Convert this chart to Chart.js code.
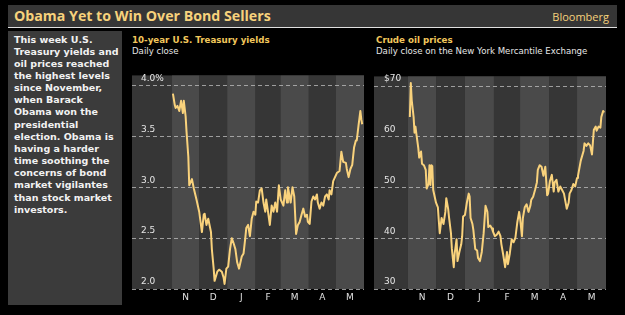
<!DOCTYPE html>
<html>
<head>
<meta charset="utf-8">
<script src="https://cdn.jsdelivr.net/npm/chart.js@4.4.1/dist/chart.umd.min.js"></script>
<style>
  body { margin: 0; background: #000; width: 625px; height: 315px; overflow: hidden; position: relative; font-family: "DejaVu Sans", sans-serif; }
  #bar { position: absolute; left: 8px; top: 5px; width: 609px; height: 22px; background: #363636; border-bottom: 1px solid #e0e0e0; }
  #title { position: absolute; left: 6px; top: 1px; font: bold 14.2px "Open Sans"; color: #f7d27c; white-space: nowrap; }
  #brand { position: absolute; right: 8px; top: 4px; font: 11px "Open Sans"; color: #f7d27c; }
  #side { position: absolute; left: 8px; top: 31px; width: 114px; height: 274px; background: #3b3b3b; }
  #side p { margin: 0; position: absolute; left: 6px; top: 2.5px; font: bold 9.5px/12.15px "DejaVu Sans"; color: #f2f2f2; white-space: nowrap; }
  .hd { position: absolute; font: bold 8.7px/11px "DejaVu Sans"; color: #f2c75c; white-space: nowrap; }
  .sub { position: absolute; font: 8.6px/11px "DejaVu Sans"; color: #e6e6e6; white-space: nowrap; }
  canvas { position: absolute; }
</style>
</head>
<body>
<div id="bar"><div id="title">Obama Yet to Win Over Bond Sellers</div><div id="brand">Bloomberg</div></div>
<div id="side"><p>This week U.S.<br>Treasury yields and<br>oil prices reached<br>the highest levels<br>since November,<br>when Barack<br>Obama won the<br>presidential<br>election. Obama is<br>having a harder<br>time soothing the<br>concerns of bond<br>market vigilantes<br>than stock market<br>investors.</p></div>

<div class="hd" style="left:132px;top:35px">10-year U.S. Treasury yields</div>
<div class="sub" style="left:132px;top:46px">Daily close</div>
<div class="hd" style="left:376px;top:35px">Crude oil prices</div>
<div class="sub" style="left:376px;top:46px">Daily close on the New York Mercantile Exchange</div>

<canvas id="yields" width="232" height="244" style="left:132px;top:61px"></canvas>
<canvas id="oil" width="232" height="244" style="left:374px;top:61px"></canvas>

<script>
// days counted from Nov 1, 2008
const monthStarts = [0, 30, 61, 92, 120, 151, 181, 212];
const monthLetters = ["N", "D", "J", "F", "M", "A", "M"];

const yieldDays = [1, 3, 4, 6, 8, 10, 12, 13, 15, 16, 18, 19, 22, 24, 27, 30, 33, 35, 36, 38,
  40, 43, 44, 46, 47, 50, 52, 55, 57, 58, 60, 62, 64, 66, 68, 70, 72, 74, 77, 79,
  81, 82, 84, 86, 88, 90, 92, 93, 95, 97, 99, 101, 103, 104, 106, 108, 110, 112, 114, 116,
  118, 120, 123, 125, 127, 128, 131, 133, 135, 137, 139, 141, 143, 145, 147, 149, 150, 152, 154, 156,
  158, 160, 161, 163, 165, 167, 169, 171, 173, 174, 176, 178, 182, 185, 187, 189, 192, 193, 195, 197,
  199, 201, 203, 204, 206, 208, 209, 210];
const yieldValues = [3.92, 3.81, 3.78, 3.80, 3.75, 3.85, 3.73, 3.85, 3.70, 3.55, 3.30, 3.02, 3.08, 2.99, 2.88, 2.76, 2.56, 2.73, 2.74, 2.63,
  2.69, 2.56, 2.39, 2.20, 2.08, 2.17, 2.19, 2.17, 2.11, 2.05, 2.20, 2.22, 2.39, 2.50, 2.45, 2.39, 2.26, 2.20, 2.32, 2.35,
  2.51, 2.60, 2.63, 2.52, 2.69, 2.76, 2.73, 2.86, 2.85, 2.97, 2.99, 2.85, 2.76, 2.88, 2.76, 2.63, 2.82, 2.76, 2.85, 2.76,
  3.02, 2.88, 2.82, 2.97, 2.85, 3.00, 2.85, 3.00, 2.91, 2.54, 2.63, 2.66, 2.73, 2.79, 2.71, 2.73, 2.66, 2.64, 2.86, 2.91,
  2.88, 2.93, 2.85, 2.79, 2.85, 2.82, 2.91, 2.93, 2.88, 2.97, 2.93, 3.06, 3.14, 3.16, 3.35, 3.25, 3.24, 3.18, 3.10, 3.18,
  3.22, 3.39, 3.46, 3.46, 3.61, 3.75, 3.67, 3.62];
const yieldTicks = [2.0, 2.5, 3.0, 3.5, 4.0];
const yieldTickLabels = ["2.0", "2.5", "3.0", "3.5", "4.0%"];

const oilDays = [2, 3, 4, 6, 7, 8, 9, 11, 12, 14, 15, 17, 19, 20, 22, 23, 24, 25, 26, 27,
  30, 32, 33, 34, 36, 38, 40, 41, 43, 44, 46, 47, 49, 50, 52, 53, 55, 57, 58, 59,
  61, 63, 65, 66, 67, 69, 70, 72, 74, 75, 77, 79, 81, 82, 83, 85, 86, 88, 90, 91,
  93, 95, 97, 99, 100, 102, 104, 106, 107, 109, 111, 113, 115, 117, 119, 120, 122, 123, 125, 127,
  129, 131, 132, 134, 136, 138, 139, 141, 143, 145, 147, 149, 150, 152, 154, 156, 157, 159, 161, 163,
  165, 167, 170, 172, 173, 175, 177, 179, 181, 182, 185, 188, 189, 191, 193, 195, 197, 198, 199, 201,
  202, 204, 206, 207, 209, 210];
const oilValues = [63.9, 70.6, 67.2, 63.9, 60.8, 62.0, 60.5, 57.8, 55.9, 57.1, 54.7, 54.4, 53.5, 49.8, 50.7, 54.4, 50.5, 54.4, 54.2, 49.5,
  47.0, 46.1, 43.4, 41.0, 44.0, 42.8, 45.2, 47.9, 45.8, 44.0, 41.0, 37.9, 34.3, 37.0, 39.8, 35.5, 37.3, 38.8, 40.4, 44.3,
  44.6, 47.0, 48.8, 48.2, 44.0, 42.8, 41.6, 37.9, 37.6, 36.1, 35.5, 37.3, 41.0, 43.7, 46.4, 45.2, 42.2, 42.5, 41.9, 41.3,
  40.4, 40.7, 41.3, 40.4, 38.8, 36.7, 34.3, 37.3, 34.9, 37.0, 39.8, 39.2, 40.1, 43.1, 45.2, 44.0, 40.4, 44.0, 46.1, 46.7,
  45.2, 46.4, 47.6, 48.2, 49.5, 51.0, 53.5, 54.4, 54.1, 52.3, 54.1, 48.5, 48.8, 51.3, 52.5, 49.2, 51.0, 51.5, 49.2, 50.2,
  49.5, 48.8, 45.8, 47.0, 48.8, 49.5, 50.7, 50.2, 51.9, 52.3, 55.3, 57.2, 58.7, 58.2, 58.7, 58.3, 56.5, 59.0, 61.4, 62.0,
  61.2, 62.0, 61.8, 63.9, 65.1, 64.8];
const oilTicks = [30, 40, 50, 60, 70];
const oilTickLabels = ["30", "40", "50", "60", "$70"];

const bandPlugin = {
  id: "bands",
  beforeDraw(chart) {
    const { ctx, chartArea: a, scales: { x } } = chart;
    ctx.save();
    ctx.fillStyle = "#363636";
    ctx.fillRect(a.left, a.top, a.width, a.height);
    for (let i = 0; i < monthStarts.length - 1; i++) {
      const x0 = x.getPixelForValue(monthStarts[i]);
      const x1 = x.getPixelForValue(monthStarts[i + 1]);
      ctx.fillStyle = i % 2 === 0 ? "#4a4a4a" : "#363636";
      ctx.fillRect(x0, a.top, x1 - x0, a.height);
    }
    ctx.restore();
  }
};

function makeChart(id, days, values, yTicks, yLabels, yMin, yMax, xMin, pad) {
  return new Chart(document.getElementById(id), {
    type: "line",
    data: {
      datasets: [{
        data: days.map((d, i) => ({ x: d, y: values[i] })),
        borderColor: "#f9d27c",
        borderWidth: 2,
        pointRadius: 0,
        tension: 0,
        borderJoinStyle: "round"
      }]
    },
    options: {
      responsive: false,
      animation: false,
      layout: { padding: 0 },
      plugins: { legend: { display: false }, tooltip: { enabled: false } },
      scales: {
        x: {
          type: "linear",
          min: xMin,
          max: 212,
          grid: { display: false, drawTicks: false },
          border: { display: false },
          afterBuildTicks: s => {
            s.ticks = monthLetters.map((m, i) => ({ value: (monthStarts[i] + monthStarts[i + 1]) / 2 }));
          },
          afterFit: s => { s.height = 16; },
          ticks: {
            autoSkip: false, maxRotation: 0, padding: 3,
            color: "#e0e0e0", font: { family: "DejaVu Sans", size: 9 },
            callback: (v, i) => monthLetters[i]
          }
        },
        y: {
          min: yMin,
          max: yMax,
          afterBuildTicks: s => { s.ticks = yTicks.map(v => ({ value: v })); },
          afterFit: s => { s.width = 0; },
          grid: { color: "rgba(185,185,185,0.8)", lineWidth: 1, drawTicks: false },
          border: { display: false, dash: [4, 3] },
          ticks: {
            mirror: true, padding: pad, labelOffset: -7,
            color: "#e6e6e6", font: { family: "DejaVu Sans", size: 9 },
            callback: (v, i) => yLabels[i]
          }
        }
      }
    },
    plugins: [bandPlugin]
  });
}

makeChart("yields", yieldDays, yieldValues, yieldTicks, yieldTickLabels, 2.0, 4.1, -44.2, 9);
makeChart("oil", oilDays, oilValues, oilTicks, oilTickLabels, 30, 71.9, -36.4, 10);
</script>
</body>
</html>
